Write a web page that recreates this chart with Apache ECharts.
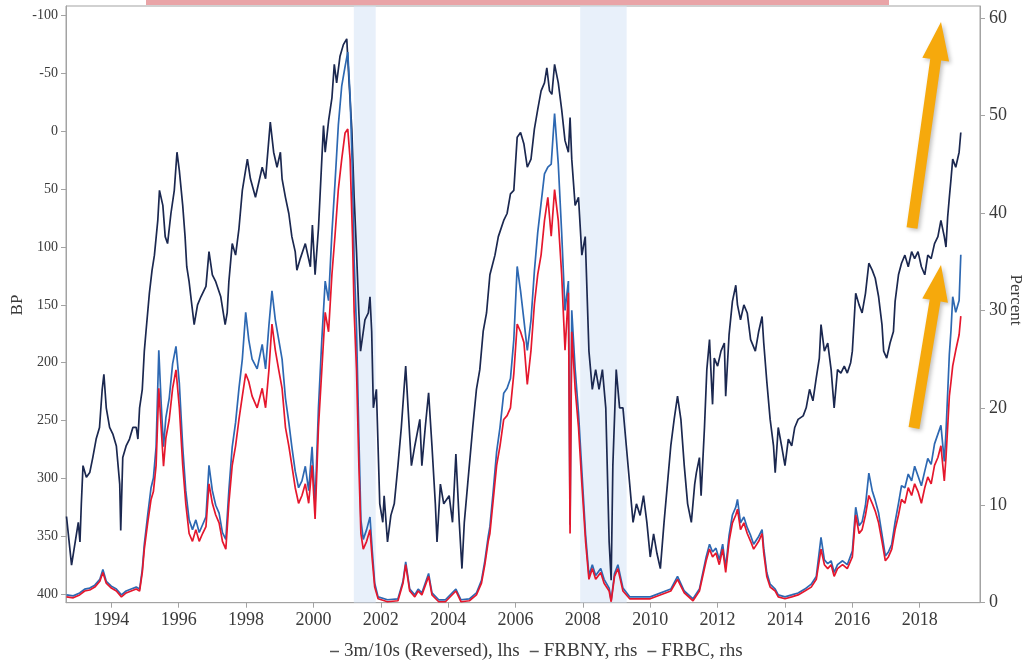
<!DOCTYPE html>
<html>
<head>
<meta charset="utf-8">
<title>3m/10s spread vs recession probability models</title>
<script src="https://cdn.jsdelivr.net/npm/echarts@6/dist/echarts.min.js"></script>
<style>
  html, body { margin: 0; padding: 0; background: #ffffff; }
  #chart { width: 1027px; height: 661px; }
</style>
</head>
<body>
<div id="chart"></div>
<script>
// Axis tick values
const yearTicks = [1994, 1996, 1998, 2000, 2002, 2004, 2006, 2008, 2010, 2012, 2014, 2016, 2018];
const bpTicks = [-100, -50, 0, 50, 100, 150, 200, 250, 300, 350, 400];
const pctTicks = [0, 10, 20, 30, 40, 50, 60];

// NBER recession periods (decimal years)
const recessions = [[2001.2, 2001.85], [2007.92, 2009.3]];

// 3m/10s Treasury curve spread, bp (plotted on a reversed left axis)
const spread = [
  [1992.67,333],[1992.82,375],[1993.02,338],[1993.07,355],[1993.11,322],[1993.16,289],[1993.26,299],[1993.36,295],
  [1993.45,282],[1993.55,266],[1993.65,256],[1993.73,223],[1993.78,210],[1993.85,239],[1993.95,256],[1994.05,262],
  [1994.15,272],[1994.25,305],[1994.28,345],[1994.34,282],[1994.44,272],[1994.54,266],[1994.64,256],[1994.74,256],
  [1994.79,266],[1994.84,239],[1994.92,223],[1994.98,190],[1995.03,173],[1995.13,140],[1995.21,120],[1995.28,107],
  [1995.38,77],[1995.43,51],[1995.53,64],[1995.60,91],[1995.67,97],[1995.77,71],[1995.87,51],[1995.95,18],
  [1996.02,34],[1996.12,64],[1996.19,91],[1996.24,117],[1996.31,130],[1996.39,150],[1996.46,167],[1996.56,150],
  [1996.66,143],[1996.81,134],[1996.90,104],[1997.00,124],[1997.10,130],[1997.25,143],[1997.38,167],[1997.44,157],
  [1997.49,130],[1997.59,97],[1997.69,107],[1997.79,84],[1997.89,51],[1998.04,24],[1998.13,41],[1998.28,57],
  [1998.48,31],[1998.58,41],[1998.72,-8],[1998.82,18],[1998.92,31],[1999.02,18],[1999.07,41],[1999.17,57],
  [1999.27,71],[1999.36,91],[1999.46,104],[1999.51,120],[1999.61,110],[1999.76,97],[1999.91,117],[1999.97,81],
  [2000.05,124],[2000.15,84],[2000.25,24],[2000.30,-5],[2000.35,18],[2000.45,-9],[2000.55,-29],[2000.62,-58],
  [2000.69,-42],[2000.79,-65],[2000.89,-75],[2000.99,-80],[2001.06,-42],[2001.14,-2],[2001.21,57],[2001.28,104],
  [2001.35,157],[2001.40,190],[2001.53,163],[2001.63,157],[2001.68,143],[2001.73,173],[2001.78,239],[2001.87,223],
  [2001.97,322],[2002.06,338],[2002.10,315],[2002.20,355],[2002.30,332],[2002.40,322],[2002.51,289],[2002.61,256],
  [2002.69,223],[2002.74,203],[2002.81,239],[2002.91,289],[2003.01,272],[2003.16,249],[2003.22,289],[2003.32,256],
  [2003.42,226],[2003.52,272],[2003.62,322],[2003.67,355],[2003.77,305],[2003.87,322],[2004.03,315],[2004.13,338],
  [2004.23,279],[2004.33,338],[2004.41,378],[2004.48,338],[2004.58,305],[2004.73,256],[2004.84,223],[2004.94,206],
  [2005.04,173],[2005.14,157],[2005.24,124],[2005.39,107],[2005.49,91],[2005.65,77],[2005.75,71],[2005.85,54],
  [2005.95,51],[2006.05,5],[2006.15,1],[2006.25,11],[2006.35,31],[2006.46,24],[2006.56,-2],[2006.66,-19],
  [2006.76,-35],[2006.86,-42],[2006.93,-55],[2007.01,-35],[2007.08,-32],[2007.16,-58],[2007.27,-42],[2007.37,-19],
  [2007.47,8],[2007.57,18],[2007.62,-12],[2007.67,24],[2007.77,64],[2007.87,57],[2007.97,107],[2008.07,91],
  [2008.18,190],[2008.28,223],[2008.38,206],[2008.48,223],[2008.58,206],[2008.68,239],[2008.78,355],[2008.84,388],
  [2008.89,289],[2008.99,206],[2009.09,239],[2009.19,239],[2009.29,272],[2009.39,305],[2009.49,338],[2009.59,322],
  [2009.70,332],[2009.80,315],[2009.90,338],[2010.00,368],[2010.10,348],[2010.20,365],[2010.30,378],[2010.41,338],
  [2010.51,305],[2010.61,272],[2010.71,249],[2010.81,229],[2010.91,249],[2011.01,289],[2011.11,322],[2011.22,338],
  [2011.32,305],[2011.37,295],[2011.46,282],[2011.51,315],[2011.61,256],[2011.68,206],[2011.76,180],[2011.80,206],
  [2011.85,236],[2011.90,196],[2012.00,203],[2012.10,190],[2012.20,183],[2012.24,229],[2012.34,176],[2012.44,147],
  [2012.54,133],[2012.59,150],[2012.68,163],[2012.78,150],[2012.88,157],[2012.98,180],[2013.12,190],[2013.22,173],
  [2013.32,160],[2013.37,183],[2013.46,216],[2013.56,249],[2013.66,272],[2013.71,295],[2013.80,256],[2013.90,272],
  [2014.00,289],[2014.10,266],[2014.20,272],[2014.29,256],[2014.39,249],[2014.54,246],[2014.63,239],[2014.73,223],
  [2014.83,233],[2014.93,213],[2015.02,196],[2015.07,167],[2015.17,190],[2015.27,183],[2015.37,206],[2015.46,239],
  [2015.56,206],[2015.66,209],[2015.76,203],[2015.85,209],[2015.95,200],[2016.00,190],[2016.10,140],[2016.20,150],
  [2016.29,157],[2016.39,140],[2016.49,114],[2016.59,120],[2016.68,127],[2016.78,143],[2016.88,167],[2016.93,190],
  [2017.02,196],[2017.12,183],[2017.22,173],[2017.27,147],[2017.37,124],[2017.46,114],[2017.56,107],[2017.66,117],
  [2017.76,104],[2017.85,110],[2017.95,104],[2018.05,117],[2018.15,124],[2018.24,107],[2018.34,110],[2018.44,97],
  [2018.54,91],[2018.63,77],[2018.73,91],[2018.78,100],[2018.83,74],[2018.88,57],[2018.93,41],[2018.98,24],
  [2019.07,31],[2019.17,18],[2019.22,1]
];

// New York Fed recession probability model, percent
const frbny = [
  [1992.67,0.8],[1992.87,0.7],[1993.06,1.0],[1993.21,1.4],[1993.36,1.5],[1993.51,1.8],[1993.66,2.4],[1993.75,3.4],
  [1993.85,2.2],[1994.00,1.7],[1994.15,1.4],[1994.30,0.8],[1994.44,1.2],[1994.59,1.4],[1994.74,1.6],[1994.84,1.4],
  [1994.92,3.4],[1994.98,6.0],[1995.08,9.0],[1995.18,11.8],[1995.25,12.8],[1995.33,16.0],[1995.41,25.9],[1995.48,20.5],
  [1995.55,16.0],[1995.62,19.0],[1995.72,21.0],[1995.82,24.5],[1995.92,26.3],[1996.02,22.5],[1996.12,16.0],[1996.21,11.5],
  [1996.31,8.5],[1996.41,7.5],[1996.51,8.5],[1996.61,7.2],[1996.71,8.0],[1996.81,8.8],[1996.90,14.1],[1997.00,11.5],
  [1997.10,10.0],[1997.20,9.2],[1997.30,7.2],[1997.40,6.5],[1997.49,11.5],[1997.59,16.0],[1997.69,18.5],[1997.79,22.0],
  [1997.89,25.0],[1997.99,29.8],[1998.08,27.0],[1998.18,25.0],[1998.33,24.0],[1998.48,26.5],[1998.58,24.0],[1998.68,28.5],
  [1998.77,32.0],[1998.87,29.0],[1998.97,27.0],[1999.07,25.0],[1999.17,21.0],[1999.27,18.5],[1999.36,16.0],[1999.46,13.5],
  [1999.56,11.8],[1999.66,12.5],[1999.76,14.0],[1999.86,11.5],[1999.96,16.0],[2000.05,10.0],[2000.15,20.0],[2000.25,27.0],
  [2000.35,33.0],[2000.45,31.0],[2000.55,38.0],[2000.64,43.0],[2000.74,49.0],[2000.84,53.0],[2000.94,55.0],[2001.02,56.5],
  [2001.09,52.0],[2001.16,44.0],[2001.21,35.0],[2001.28,28.0],[2001.35,17.0],[2001.41,8.5],[2001.48,6.5],[2001.58,7.5],
  [2001.68,8.8],[2001.75,5.2],[2001.82,2.0],[2001.92,0.6],[2002.20,0.3],[2002.51,0.4],[2002.66,2.2],[2002.74,4.2],
  [2002.86,1.4],[2003.01,0.8],[2003.11,1.4],[2003.22,1.0],[2003.42,3.0],[2003.52,1.0],[2003.72,0.3],[2003.92,0.3],
  [2004.23,1.4],[2004.38,0.3],[2004.63,0.4],[2004.84,1.0],[2004.99,2.3],[2005.09,4.3],[2005.19,6.8],[2005.24,7.8],
  [2005.34,11.5],[2005.44,15.5],[2005.54,18.0],[2005.65,21.5],[2005.75,22.0],[2005.85,23.0],[2005.95,27.0],[2006.05,34.5],
  [2006.15,32.0],[2006.25,29.0],[2006.35,25.9],[2006.46,29.0],[2006.56,34.0],[2006.66,38.0],[2006.76,41.0],[2006.86,44.0],
  [2006.96,44.7],[2007.06,45.0],[2007.16,50.2],[2007.27,45.0],[2007.37,38.0],[2007.47,30.0],[2007.57,33.0],[2007.62,8.0],
  [2007.67,30.0],[2007.77,24.0],[2007.87,19.5],[2007.97,13.5],[2008.08,7.0],[2008.18,2.8],[2008.28,3.9],[2008.38,2.8],
  [2008.53,3.5],[2008.63,2.4],[2008.78,1.5],[2008.84,0.2],[2008.94,3.0],[2009.04,3.9],[2009.19,1.5],[2009.39,0.6],
  [2010.00,0.6],[2010.61,1.4],[2010.81,2.7],[2011.01,1.2],[2011.27,0.4],[2011.46,1.4],[2011.66,4.7],[2011.76,6.0],
  [2011.85,5.2],[2011.95,5.6],[2012.05,4.4],[2012.15,6.0],[2012.24,3.6],[2012.34,6.9],[2012.44,9.0],[2012.54,9.8],
  [2012.59,10.6],[2012.68,8.2],[2012.78,8.8],[2012.88,7.7],[2012.98,6.9],[2013.07,6.0],[2013.22,6.8],[2013.32,7.5],
  [2013.37,5.6],[2013.46,3.1],[2013.56,1.9],[2013.71,1.4],[2013.80,0.8],[2014.00,0.6],[2014.20,0.8],[2014.39,1.0],
  [2014.59,1.4],[2014.78,1.9],[2014.93,2.7],[2015.07,6.7],[2015.17,4.4],[2015.27,4.0],[2015.37,4.3],[2015.46,3.1],
  [2015.56,3.9],[2015.71,4.3],[2015.85,3.9],[2016.00,5.3],[2016.10,9.8],[2016.20,7.9],[2016.29,8.3],[2016.39,10.0],
  [2016.49,13.3],[2016.59,11.5],[2016.68,10.5],[2016.78,9.2],[2016.88,7.0],[2016.98,4.8],[2017.07,5.2],[2017.17,6.0],
  [2017.27,8.3],[2017.37,10.2],[2017.46,12.0],[2017.56,11.8],[2017.66,13.2],[2017.76,12.5],[2017.85,14.0],[2017.95,13.0],
  [2018.05,12.0],[2018.15,13.5],[2018.24,14.8],[2018.34,14.2],[2018.44,16.3],[2018.54,17.3],[2018.63,18.2],[2018.73,14.5],
  [2018.78,17.5],[2018.83,21.5],[2018.88,25.5],[2018.93,28.0],[2018.98,31.4],[2019.07,29.8],[2019.17,31.0],[2019.22,35.7]
];

// Cleveland Fed recession probability model, percent
const frbc = [
  [1992.67,0.6],[1992.87,0.5],[1993.06,0.8],[1993.21,1.2],[1993.36,1.3],[1993.51,1.6],[1993.66,2.2],[1993.75,3.1],
  [1993.85,2.0],[1994.00,1.5],[1994.15,1.2],[1994.30,0.6],[1994.44,1.0],[1994.59,1.2],[1994.74,1.4],[1994.84,1.2],
  [1994.92,3.1],[1994.98,5.5],[1995.08,8.2],[1995.18,10.6],[1995.25,11.4],[1995.33,14.1],[1995.41,22.0],[1995.48,18.0],
  [1995.55,14.0],[1995.62,16.9],[1995.72,18.8],[1995.82,22.0],[1995.92,23.9],[1996.02,20.0],[1996.12,14.1],[1996.21,10.2],
  [1996.31,7.1],[1996.41,6.3],[1996.51,7.5],[1996.61,6.3],[1996.71,7.1],[1996.81,7.8],[1996.90,12.2],[1997.00,10.2],
  [1997.10,9.0],[1997.20,8.2],[1997.30,6.3],[1997.40,5.5],[1997.49,10.2],[1997.59,14.1],[1997.69,16.1],[1997.79,18.8],
  [1997.89,21.2],[1997.99,23.5],[1998.08,22.7],[1998.18,21.2],[1998.33,20.0],[1998.48,22.0],[1998.58,20.0],[1998.68,23.9],
  [1998.77,28.6],[1998.87,25.9],[1998.97,23.9],[1999.07,22.0],[1999.17,18.0],[1999.27,16.1],[1999.36,14.1],[1999.46,11.8],
  [1999.56,10.2],[1999.66,11.0],[1999.76,12.2],[1999.86,10.2],[1999.96,14.1],[2000.05,8.6],[2000.15,18.0],[2000.25,23.9],
  [2000.35,29.8],[2000.45,27.8],[2000.55,33.7],[2000.64,37.6],[2000.74,42.4],[2000.84,45.5],[2000.94,48.2],[2001.02,48.6],
  [2001.09,45.5],[2001.16,37.6],[2001.21,29.8],[2001.28,23.9],[2001.35,14.1],[2001.41,7.1],[2001.48,5.5],[2001.58,6.3],
  [2001.68,7.5],[2001.75,4.3],[2001.82,1.6],[2001.92,0.4],[2002.20,0.1],[2002.51,0.2],[2002.66,2.0],[2002.74,3.9],
  [2002.86,1.2],[2003.01,0.6],[2003.11,1.2],[2003.22,0.8],[2003.42,2.7],[2003.52,0.8],[2003.72,0.1],[2003.92,0.1],
  [2004.23,1.2],[2004.38,0.1],[2004.63,0.2],[2004.84,0.8],[2004.99,2.0],[2005.09,3.9],[2005.19,6.3],[2005.24,7.1],
  [2005.34,10.6],[2005.44,14.1],[2005.54,16.1],[2005.65,18.8],[2005.75,19.2],[2005.85,20.0],[2005.95,23.5],[2006.05,28.6],
  [2006.15,27.8],[2006.25,26.7],[2006.35,22.4],[2006.46,25.9],[2006.56,30.6],[2006.66,33.7],[2006.76,35.7],[2006.86,39.2],
  [2006.96,41.6],[2007.06,37.6],[2007.16,42.4],[2007.27,39.2],[2007.37,33.7],[2007.47,25.9],[2007.57,31.8],[2007.62,7.1],
  [2007.67,27.8],[2007.77,22.0],[2007.87,18.0],[2007.97,12.2],[2008.08,6.3],[2008.18,2.4],[2008.28,3.5],[2008.38,2.4],
  [2008.53,3.1],[2008.63,2.0],[2008.78,1.2],[2008.84,0.1],[2008.94,2.7],[2009.04,3.5],[2009.19,1.2],[2009.39,0.4],
  [2010.00,0.4],[2010.61,1.2],[2010.81,2.4],[2011.01,1.0],[2011.27,0.2],[2011.46,1.2],[2011.66,4.3],[2011.76,5.5],
  [2011.85,4.7],[2011.95,5.1],[2012.05,3.9],[2012.15,5.5],[2012.24,3.1],[2012.34,6.3],[2012.44,8.2],[2012.54,9.0],
  [2012.59,9.6],[2012.68,7.5],[2012.78,8.2],[2012.88,7.1],[2012.98,6.3],[2013.07,5.5],[2013.22,6.3],[2013.32,7.1],
  [2013.37,5.1],[2013.46,2.7],[2013.56,1.6],[2013.71,1.2],[2013.80,0.6],[2014.00,0.4],[2014.20,0.6],[2014.39,0.8],
  [2014.59,1.2],[2014.78,1.6],[2014.93,2.4],[2015.07,5.5],[2015.17,3.9],[2015.27,3.5],[2015.37,3.9],[2015.46,2.7],
  [2015.56,3.5],[2015.71,3.9],[2015.85,3.5],[2016.00,4.7],[2016.10,9.0],[2016.20,7.1],[2016.29,7.5],[2016.39,9.0],
  [2016.49,11.0],[2016.59,10.2],[2016.68,9.4],[2016.78,8.2],[2016.88,6.3],[2016.98,4.3],[2017.07,4.7],[2017.17,5.5],
  [2017.27,7.5],[2017.37,9.0],[2017.46,10.6],[2017.56,10.2],[2017.66,11.8],[2017.76,11.0],[2017.85,12.2],[2017.95,11.4],
  [2018.05,10.2],[2018.15,11.8],[2018.24,12.9],[2018.34,12.2],[2018.44,14.1],[2018.54,14.9],[2018.63,16.1],[2018.73,12.5],
  [2018.78,14.9],[2018.83,18.0],[2018.88,21.2],[2018.93,22.7],[2018.98,24.3],[2019.07,25.9],[2019.17,27.5],[2019.22,29.4]
];

const SERIF = 'Liberation Serif, DejaVu Serif, serif';
const AXIS_GRAY = '#a3a3a3';
const TEXT = '#3a3a3a';

// Block arrow polygon running from tail to tip
function arrowPoints(tail, tip, shaftHalf, headHalf, headLen) {
  const dx = tip[0] - tail[0], dy = tip[1] - tail[1];
  const len = Math.hypot(dx, dy);
  const ux = dx / len, uy = dy / len;
  const nx = -uy, ny = ux;
  const bx = tip[0] - ux * headLen, by = tip[1] - uy * headLen;
  return [
    [tail[0] + nx * shaftHalf, tail[1] + ny * shaftHalf],
    [bx + nx * shaftHalf, by + ny * shaftHalf],
    [bx + nx * headHalf, by + ny * headHalf],
    tip,
    [bx - nx * headHalf, by - ny * headHalf],
    [bx - nx * shaftHalf, by - ny * shaftHalf],
    [tail[0] - nx * shaftHalf, tail[1] - ny * shaftHalf]
  ];
}

const arrowStyle = {
  fill: '#f6a90c',
  shadowBlur: 4,
  shadowColor: 'rgba(0,0,0,0.25)',
  shadowOffsetX: 2,
  shadowOffsetY: 2
};

const axisTitleStyle = { fontFamily: SERIF, fontSize: 17, fill: TEXT, align: 'center', verticalAlign: 'middle' };

const chart = echarts.init(document.getElementById('chart'), null, { renderer: 'canvas' });

chart.setOption({
  animation: false,
  backgroundColor: '#ffffff',
  grid: {
    left: 66, right: 47, top: 6, bottom: 58.3,
    outerBoundsMode: 'none',
    containLabel: false,
    show: true, borderColor: AXIS_GRAY, borderWidth: 1, backgroundColor: 'transparent'
  },
  legend: {
    left: 325, top: 637,
    icon: 'rect', itemWidth: 9, itemHeight: 1.5, itemGap: 10,
    itemStyle: { color: '#555555' },
    textStyle: { fontFamily: SERIF, fontSize: 19, color: TEXT },
    data: ['3m/10s (Reversed), lhs', 'FRBNY, rhs', 'FRBC, rhs']
  },
  xAxis: {
    type: 'value',
    min: 1992.655, max: 2019.79,
    splitLine: { show: false },
    axisLine: { show: true, onZero: false, lineStyle: { color: AXIS_GRAY } },
    axisTick: { show: true, length: 5, lineStyle: { color: AXIS_GRAY }, customValues: yearTicks },
    axisLabel: {
      customValues: yearTicks, formatter: v => String(v),
      fontFamily: SERIF, fontSize: 18, color: TEXT, margin: 9
    }
  },
  yAxis: [
    {
      type: 'value', inverse: true,
      min: -108.4, max: 407.5,
      splitLine: { show: false },
      axisLine: { show: true, onZero: false, lineStyle: { color: AXIS_GRAY } },
      axisTick: { show: true, length: 5, lineStyle: { color: AXIS_GRAY }, customValues: bpTicks },
      axisLabel: { customValues: bpTicks, fontFamily: SERIF, fontSize: 14, color: TEXT, margin: 8 }
    },
    {
      type: 'value', position: 'right',
      min: 0, max: 61.23,
      splitLine: { show: false },
      axisLine: { show: true, onZero: false, lineStyle: { color: AXIS_GRAY } },
      axisTick: { show: true, length: 5, lineStyle: { color: AXIS_GRAY }, customValues: pctTicks },
      axisLabel: { customValues: pctTicks, fontFamily: SERIF, fontSize: 18, color: TEXT, margin: 9 }
    }
  ],
  series: [
    {
      name: '3m/10s (Reversed), lhs',
      type: 'line', yAxisIndex: 0, data: spread,
      showSymbol: false, z: 2,
      lineStyle: { color: '#1b2850', width: 1.7 },
      itemStyle: { color: '#1b2850' },
      markArea: {
        silent: true,
        itemStyle: { color: 'rgba(214,228,246,0.55)' },
        data: recessions.map(r => [{ xAxis: r[0] }, { xAxis: r[1] }])
      }
    },
    {
      name: 'FRBNY, rhs',
      type: 'line', yAxisIndex: 1, data: frbny,
      showSymbol: false, z: 3,
      lineStyle: { color: '#2d68b2', width: 1.7 },
      itemStyle: { color: '#2d68b2' }
    },
    {
      name: 'FRBC, rhs',
      type: 'line', yAxisIndex: 1, data: frbc,
      showSymbol: false, z: 4,
      lineStyle: { color: '#e5172d', width: 1.7 },
      itemStyle: { color: '#e5172d' }
    }
  ],
  graphic: [
    { type: 'rect', shape: { x: 146, y: 0, width: 743, height: 5 }, style: { fill: '#e9a4a7' }, z: 10 },
    { type: 'text', x: 18, y: 305, rotation: Math.PI / 2, style: Object.assign({ text: 'BP' }, axisTitleStyle), z: 10 },
    { type: 'text', x: 1015, y: 300, rotation: -Math.PI / 2, style: Object.assign({ text: 'Percent' }, axisTitleStyle), z: 10 },
    { type: 'polygon', shape: { points: arrowPoints([912, 228], [941, 22], 5.5, 13.5, 38) }, style: arrowStyle, z: 20 },
    { type: 'polygon', shape: { points: arrowPoints([914, 428], [941, 265], 5.5, 13, 36) }, style: arrowStyle, z: 20 }
  ]
});
</script>
</body>
</html>
